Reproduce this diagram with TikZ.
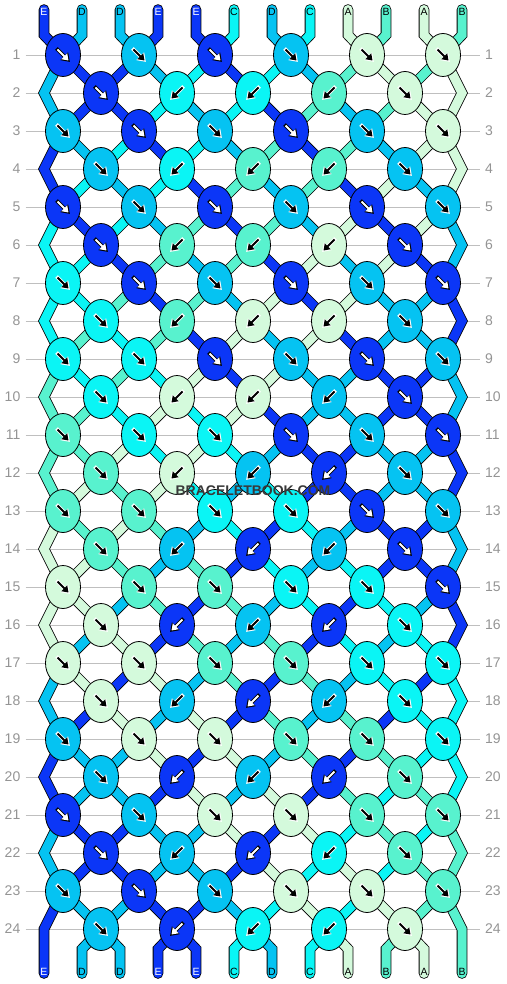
\documentclass[tikz,border=0pt]{standalone}
\usepackage{fontspec}
\setmainfont{Liberation Sans}
\usepackage{tikz}
\usetikzlibrary{shapes.geometric,arrows.meta}
\definecolor{strA}{HTML}{D4FADC}
\definecolor{strB}{HTML}{58F2CE}
\definecolor{strC}{HTML}{0AF5F5}
\definecolor{strD}{HTML}{05C3F2}
\definecolor{strE}{HTML}{0B36F7}
\colorlet{labA}{black}\colorlet{labB}{black}\colorlet{labC}{black}\colorlet{labD}{black}\colorlet{labE}{white}
\colorlet{tipA}{black}\colorlet{tipB}{black}\colorlet{tipC}{black}\colorlet{tipD}{black}\colorlet{tipE}{white}
\colorlet{rimA}{white}\colorlet{rimB}{white}\colorlet{rimC}{white}\colorlet{rimD}{white}\colorlet{rimE}{black}
\pgfdeclarelayer{bg}
\pgfsetlayers{bg,main}
\def\strandrows{0/{E,D,D,E,E,C,D,C,A,B,A,B},
	1/{D,E,E,D,C,E,C,D,B,A,B,A},
	2/{D,E,E,C,D,C,E,B,D,B,A,A},
	3/{E,D,C,E,C,D,B,E,B,D,A,A},
	4/{E,C,D,C,E,B,D,B,E,A,D,A},
	5/{C,E,C,D,B,E,B,D,A,E,A,D},
	6/{C,C,E,B,D,B,E,A,D,A,E,D},
	7/{C,C,B,E,B,D,A,E,A,D,D,E},
	8/{C,B,C,B,E,A,D,A,E,D,D,E},
	9/{B,C,B,C,A,E,A,D,D,E,E,D},
	10/{B,B,C,A,C,A,E,D,D,E,E,D},
	11/{B,B,A,C,A,C,D,E,E,D,D,E},
	12/{B,A,B,A,C,D,C,E,E,D,D,E},
	13/{A,B,A,B,D,C,E,C,D,E,E,D},
	14/{A,A,B,D,B,E,C,D,C,E,E,D},
	15/{A,A,D,B,E,B,D,C,E,C,D,E},
	16/{A,D,A,E,B,D,B,E,C,D,C,E},
	17/{D,A,E,A,D,B,E,B,D,C,E,C},
	18/{D,E,A,D,A,E,B,D,B,E,C,C},
	19/{E,D,D,A,E,A,D,B,E,B,C,C},
	20/{E,D,D,E,A,D,A,E,B,C,B,C},
	21/{D,E,E,D,D,A,E,A,C,B,C,B},
	22/{D,E,E,D,D,E,A,C,A,C,B,B},
	23/{E,D,D,E,E,D,C,A,C,A,B,B},
	24/{E,D,D,E,E,C,D,C,A,B,A,B}}

\begin{document}
\begin{tikzpicture}[x=1pt, y=-1pt,
		knot/.style={ellipse, draw=black, line width=0.8pt, minimum width=35pt, minimum height=43pt, inner sep=0pt},
		strand/.style={line width=0.8pt, draw=black, double=#1, double distance=9pt},
		strend/.style={strand=#1, line cap=round},
		arrowrim/.style={draw=#1, line width=3.6pt, -{Triangle[length=8pt, width=10.5pt]}},
		arrowfill/.style={draw=#1, line width=2pt, -{Triangle[length=6pt, width=8pt]}},
		rowlab/.style={text=black!42, font=\fontsize{14}{16}\selectfont, inner ysep=0pt, inner xsep=5pt},
		guide/.style={draw=black!25, line width=0.8pt},
		strlabel/.style={font=\fontsize{10.5}{12}\selectfont, inner sep=0pt}]
	\useasboundingbox (0,0) rectangle (506,984);
	\foreach \r in {2,4,...,24} {
		\coordinate (eL\r) at (44,{17+38*\r});
		\coordinate (eR\r) at (462,{17+38*\r});
	}
	\foreach \s [count=\p from 0] in {E,D,D,E,E,C,D,C,A,B,A,B} {
		\coordinate (t\p) at ({44+38*\p},9.5);
		\coordinate (tb\p) at ({44+38*\p},35);
		\coordinate (bb\p) at ({44+38*\p},949);
		\coordinate (be\p) at ({44+38*\p},973.5);
	}
	\foreach \r/\st in \strandrows {
		\foreach \s [count=\p from 0] in \st {
			\def\kc{-1}
			\ifnum\r>0
				\ifodd\r
					\ifodd\p \pgfmathtruncatemacro\kc{(\p-1)/2}\def\kx{63}\def\kd{1}\fi
				\else
					\def\kx{101}
					\ifnum\p=2 \def\kc{0}\def\kd{1}\fi
					\ifnum\p=3 \def\kc{1}\def\kd{-1}\fi
					\ifnum\p=5 \def\kc{2}\def\kd{-1}\fi
					\ifnum\p=7 \def\kc{3}\def\kd{-1}\fi
					\ifnum\p=10 \def\kc{4}\def\kd{1}\fi
				\fi
			\fi
			\ifnum\kc>-1
				\node[knot, fill=str\s] (k\r-\kc) at ({\kx+76*\kc},{17+38*\r}) {};
				\draw[arrowrim=rim\s] ([shift={({-6.5*\kd},-6.5)}]k\r-\kc.center) -- ([shift={({6.9*\kd},6.9)}]k\r-\kc.center);
				\draw[arrowfill=tip\s] ([shift={({-5.5*\kd},-5.5)}]k\r-\kc.center) -- ([shift={({5.5*\kd},5.5)}]k\r-\kc.center);
			\fi
		}
	}
	\begin{pgfonlayer}{bg}
		\foreach \r in {1,...,24} {
			\node[rowlab, anchor=east] (ll\r) at (25.5,{17+38*\r}) {\r};
			\node[rowlab, anchor=west] (rl\r) at (480,{17+38*\r}) {\r};
			\draw[guide] (ll\r) -- (rl\r);
		}
		\foreach \r/\st in \strandrows {
			\pgfmathtruncatemacro\rp{\r-1}
			\pgfmathtruncatemacro\rn{\r+1}
			\foreach \s [count=\p from 0] in \st {
				\pgfmathtruncatemacro\pa{floor(\p/2)}
				\pgfmathtruncatemacro\pb{floor((\p-1)/2)}
				\ifnum\r=0
					\draw[strend=str\s] (t\p) -- (tb\p) -- (k1-\pa.center);
				\else\ifnum\r=24
					\ifnum\p=0 \draw[strend=str\s] (k23-0.center) -- (eL24) -- (be\p);
					\else\ifnum\p=11 \draw[strend=str\s] (k23-5.center) -- (eR24) -- (be\p);
					\else \draw[strend=str\s] (k24-\pb.center) -- (bb\p) -- (be\p);
					\fi\fi
				\else\ifodd\r
					\ifnum\p>0 \ifnum\p<11 \draw[strand=str\s] (k\r-\pa.center) -- (k\rn-\pb.center); \fi\fi
				\else
					\ifnum\p=0 \draw[strand=str\s] (k\rp-0.center) -- (eL\r) -- (k\rn-0.center);
					\else\ifnum\p=11 \draw[strand=str\s] (k\rp-5.center) -- (eR\r) -- (k\rn-5.center);
					\else \draw[strand=str\s] (k\r-\pb.center) -- (k\rn-\pa.center);
					\fi\fi
				\fi\fi\fi
			}
		}
	\end{pgfonlayer}
	\foreach \s [count=\p from 0] in {E,D,D,E,E,C,D,C,A,B,A,B} {
		\node[strlabel, text=lab\s] (tl\p) at ({44+38*\p},12) {\s};
		\node[strlabel, text=lab\s] (bl\p) at ({44+38*\p},972) {\s};
	}
	\node[font=\bfseries\fontsize{14}{16}\selectfont, text=black!78, inner sep=0pt] (mark) at (253,491) {BRACELETBOOK.COM};
\end{tikzpicture}
\end{document}
